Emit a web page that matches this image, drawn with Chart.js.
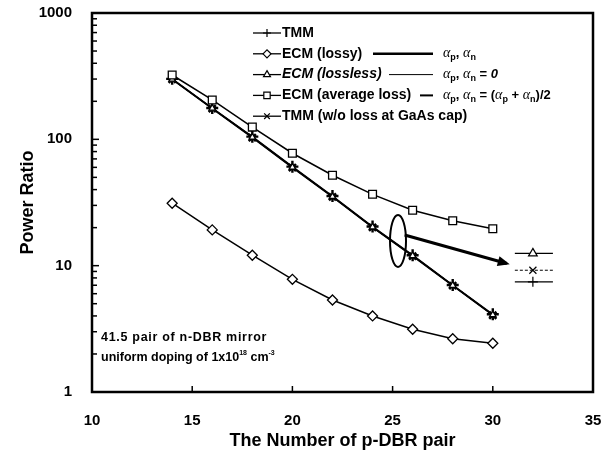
<!DOCTYPE html>
<html><head><meta charset="utf-8">
<script src="https://cdn.jsdelivr.net/npm/chart.js@4/dist/chart.umd.min.js"></script>
<style>html,body{margin:0;padding:0;background:#fff}#wrap{width:611px;height:457px;position:relative}</style>
</head><body><div id="wrap"><canvas id="c" width="611" height="457"></canvas></div>
<script>
// ---- data ----
const pairs = [14,16,18,20,22,24,26,28,30];
const tmm          = [301,177,105,60.8,35.6,20.4,12.1,7.03,4.12];
const ecmLossy     = [31.2,19.2,12.1,7.8,5.35,4.0,3.14,2.64,2.43];
const ecmLossless  = [299,176,104,60.2,35.2,20.2,12.0,6.98,4.08];
const ecmAverage   = [323,205,125,77.6,52,36.7,27.5,22.7,19.6];
const tmmNoCapLoss = [298,175,103,59.8,35.0,20.1,11.9,6.95,4.05];
const xTicks = [10,15,20,25,30,35];
const yTicks = [1,10,100,1000];
// annotation anchors (data space)
const arrowX = [25.6, 30.7];
const arrowY = [17.5, 10.4];
const ellipseCenter = [25.27, 15.7];
const sideKeyX = [31.1, 32.0, 33.0];
const sideKeyY = [12.5, 9.2, 7.45];

const FONT = "'Liberation Sans', Arial, sans-serif";
const TARGET = {left: 92, top: 13, right: 593, bottom: 392};
const pts = (ys) => pairs.map((x,i)=>({x, y: ys[i]}));
const keyPts = (y) => sideKeyX.map(x=>({x, y}));

function series(label, ys, style, extra) {
  return Object.assign({
    label, data: pts(ys), borderColor:'#000', backgroundColor:'#fff',
    borderWidth:1.5, pointStyle:style, pointRadius:4.5, pointBorderWidth:1.3,
    pointBorderColor:'#000', pointBackgroundColor:'#fff', tension:0, fill:false
  }, extra||{});
}
function keySeries(y, style, dash, w) {
  return {label:'key-'+style, data:keyPts(y), borderColor:'#000', borderWidth:w, borderDash:dash,
    pointStyle:style, pointRadius:[0,5,0], pointBorderWidth:1.2, pointBorderColor:'#000',
    pointBackgroundColor:'#fff', fill:false};
}

const datasets = [
  series('ECM (average loss)', ecmAverage, 'rect', {pointRadius:5.5}),
  series('ECM (lossy)', ecmLossy, 'rectRot', {pointRadius:5}),
  series('ECM (lossless)', ecmLossless, 'triangle', {pointRadius:3.8}),
  series('TMM (w/o loss at GaAs cap)', tmmNoCapLoss, 'crossRot', {pointRadius:5, pointBorderWidth:2.4}),
  series('TMM', tmm, 'cross', {pointRadius:6, pointBorderWidth:2.4}),
  {label:'arrow', data: arrowX.map((x,i)=>({x, y:arrowY[i]})), borderColor:'#000', borderWidth:3, pointRadius:0, fill:false},
  keySeries(sideKeyY[0], 'triangle', [], 1.2),
  keySeries(sideKeyY[1], 'crossRot', [3,2], 1),
  keySeries(sideKeyY[2], 'cross', [], 1.2),
];

function marker(ctx, style, x, y, r, w) {
  ctx.save();
  ctx.strokeStyle = '#000'; ctx.fillStyle = '#fff'; ctx.lineWidth = w || 1.3;
  Chart.helpers.drawPoint(ctx, {pointStyle: style, radius: r, borderWidth: w || 1.3, rotation: 0}, x, y);
  ctx.restore();
}

function drawRich(ctx, x, y, parts) {
  for (const [t, kind] of parts) {
    if (kind === 'sub') { ctx.font = "bold 9px " + FONT; ctx.fillText(t, x, y + 4); }
    else if (kind === 'it') { ctx.font = "italic bold 13px " + FONT; ctx.fillText(t, x, y); }
    else if (kind === 'a') { ctx.font = "italic 14px 'Liberation Serif', serif"; ctx.fillText(t, x, y); }
    else { ctx.font = "bold 13px " + FONT; ctx.fillText(t, x, y); }
    x += ctx.measureText(t).width;
  }
}

const decor = {
  id: 'decor',
  afterDraw(chart) {
    const {ctx, scales: {x: sx, y: sy}} = chart;
    ctx.save();
    ctx.strokeStyle = '#000'; ctx.fillStyle = '#000';
    // frame
    ctx.lineWidth = 2.5;
    ctx.strokeRect(sx.left, sy.top, sx.right - sx.left, sy.bottom - sy.top);
    // y ticks (inward, on left axis)
    ctx.lineWidth = 1.5;
    for (let d = 1; d < 1000; d *= 10) {
      for (let m = 1; m <= 9; m++) {
        const py = sy.getPixelForValue(d * m);
        const len = m === 1 ? 7 : 5;
        ctx.beginPath(); ctx.moveTo(sx.left, py); ctx.lineTo(sx.left + len, py); ctx.stroke();
      }
    }
    // x ticks (inward)
    for (const v of xTicks) {
      const px = sx.getPixelForValue(v);
      ctx.beginPath(); ctx.moveTo(px, sy.bottom); ctx.lineTo(px, sy.bottom - 6); ctx.stroke();
    }
    // arrow head
    const x1 = sx.getPixelForValue(arrowX[0]), y1 = sy.getPixelForValue(arrowY[0]);
    const x2 = sx.getPixelForValue(arrowX[1]), y2 = sy.getPixelForValue(arrowY[1]);
    const ang = Math.atan2(y2 - y1, x2 - x1);
    ctx.beginPath();
    ctx.moveTo(x2 + 3*Math.cos(ang), y2 + 3*Math.sin(ang));
    ctx.lineTo(x2 - 9*Math.cos(ang) + 5*Math.sin(ang), y2 - 9*Math.sin(ang) - 5*Math.cos(ang));
    ctx.lineTo(x2 - 9*Math.cos(ang) - 5*Math.sin(ang), y2 - 9*Math.sin(ang) + 5*Math.cos(ang));
    ctx.closePath(); ctx.fill();
    // ellipse
    const ex = sx.getPixelForValue(ellipseCenter[0]), ey = sy.getPixelForValue(ellipseCenter[1]);
    ctx.lineWidth = 2;
    ctx.beginPath(); ctx.ellipse(ex, ey, 8, 26, 0, 0, Math.PI * 2); ctx.stroke();

    // legend
    const lx = 253, ly0 = 33, dy = 20.8;
    const rows = [
      ['TMM', 'cross', false],
      ['ECM (lossy)', 'rectRot', false],
      ['ECM (lossless)', 'triangle', true],
      ['ECM (average loss)', 'rect', false],
      ['TMM (w/o loss at GaAs cap)', 'crossRot', false],
    ];
    ctx.textBaseline = 'middle'; ctx.textAlign = 'left';
    rows.forEach((r, i) => {
      const y = ly0 + i * dy;
      ctx.lineWidth = 1.3; ctx.strokeStyle = '#000';
      ctx.beginPath(); ctx.moveTo(lx, y); ctx.lineTo(lx + 28, y); ctx.stroke();
      marker(ctx, r[1], lx + 14, y, r[1] === 'rect' ? 4.5 : 4, 1.2);
      ctx.fillStyle = '#000';
      ctx.font = (r[2] ? 'italic ' : '') + 'bold 14px ' + FONT;
      ctx.fillText(r[0], lx + 29, y);
    });
    // line-style key next to ECM rows
    const ykey = (i) => ly0 + i * dy;
    ctx.strokeStyle = '#000';
    ctx.lineWidth = 2.5; ctx.beginPath(); ctx.moveTo(373, ykey(1)); ctx.lineTo(433, ykey(1)); ctx.stroke();
    ctx.lineWidth = 1; ctx.beginPath(); ctx.moveTo(389, ykey(2)); ctx.lineTo(433, ykey(2)); ctx.stroke();
    ctx.lineWidth = 2; ctx.beginPath(); ctx.moveTo(420, ykey(3)); ctx.lineTo(433, ykey(3)); ctx.stroke();
    ctx.fillStyle = '#000';
    const ap = [['α','a'],['p','sub'],[', ','n'],['α','a'],['n','sub']];
    drawRich(ctx, 443, ykey(1), ap);
    drawRich(ctx, 443, ykey(2), ap.concat([[' = ','n'],['0','it']]));
    drawRich(ctx, 443, ykey(3), ap.concat([[' = (','n'],['α','a'],['p','sub'],[' + ','n'],['α','a'],['n','sub'],[')/2','n']]));

    // note
    ctx.font = 'bold 12.5px ' + FONT;
    if ('letterSpacing' in ctx) ctx.letterSpacing = '0.7px';
    ctx.fillText('41.5 pair of n-DBR mirror', 101, 338);
    if ('letterSpacing' in ctx) ctx.letterSpacing = '0px';
    let tx = 101; const ty = 358;
    const seg = (t, f, dyy) => { ctx.font = f; ctx.fillText(t, tx, ty + dyy); tx += ctx.measureText(t).width; };
    seg('uniform doping of 1x10', 'bold 12.5px ' + FONT, 0);
    seg('18', 'bold 7px ' + FONT, -5);
    seg(' cm', 'bold 12.5px ' + FONT, 0);
    seg('-3', 'bold 7px ' + FONT, -5);
    ctx.restore();
  }
};

const pad = { left: 0, top: 13, right: 18, bottom: 0 };
const noGrid = { display: false, drawTicks: true, tickLength: 20, color: 'rgba(0,0,0,0)' };
const chart = new Chart(document.getElementById('c'), {
  type: 'line',
  data: { datasets },
  options: {
    responsive: false, animation: false, devicePixelRatio: 1,
    layout: { padding: Object.assign({}, pad) },
    plugins: { legend: { display: false }, tooltip: { enabled: false } },
    scales: {
      x: {
        type: 'linear', min: 10, max: 35,
        afterBuildTicks: (s) => { s.ticks = xTicks.map(v => ({value: v})); },
        ticks: { color: '#000', font: { family: FONT, size: 15, weight: 'bold' }, padding: 0, maxRotation: 0 },
        grid: noGrid, border: { display: false },
        title: { display: true, text: 'The Number of p-DBR pair', color: '#000',
                 font: { family: FONT, size: 18, weight: 'bold' }, padding: { top: 0, bottom: 4 } }
      },
      y: {
        type: 'logarithmic', min: 1, max: 1000,
        afterBuildTicks: (s) => { s.ticks = yTicks.map(v => ({value: v})); },
        ticks: { color: '#000', font: { family: FONT, size: 15, weight: 'bold' }, padding: 0,
                 callback: (v) => String(v) },
        grid: noGrid, border: { display: false },
        title: { display: true, text: 'Power Ratio', color: '#000',
                 font: { family: FONT, size: 18, weight: 'bold' }, padding: { top: 12, bottom: 0 } }
      }
    }
  },
  plugins: [decor]
});
// nudge padding so the plot area lands where it is in the reference
for (let k = 0; k < 4; k++) {
  const sx = chart.scales.x, sy = chart.scales.y;
  const dl = TARGET.left - sx.left, dt = TARGET.top - sy.top;
  const dr = sx.right - TARGET.right, db = sy.bottom - TARGET.bottom;
  if (Math.abs(dl) < 0.5 && Math.abs(dt) < 0.5 && Math.abs(dr) < 0.5 && Math.abs(db) < 0.5) break;
  pad.left = Math.max(0, pad.left + dl); pad.top = Math.max(0, pad.top + dt);
  pad.right = Math.max(0, pad.right + dr); pad.bottom = Math.max(0, pad.bottom + db);
  chart.options.layout.padding = Object.assign({}, pad);
  chart.update('none');
}
</script></body></html>
